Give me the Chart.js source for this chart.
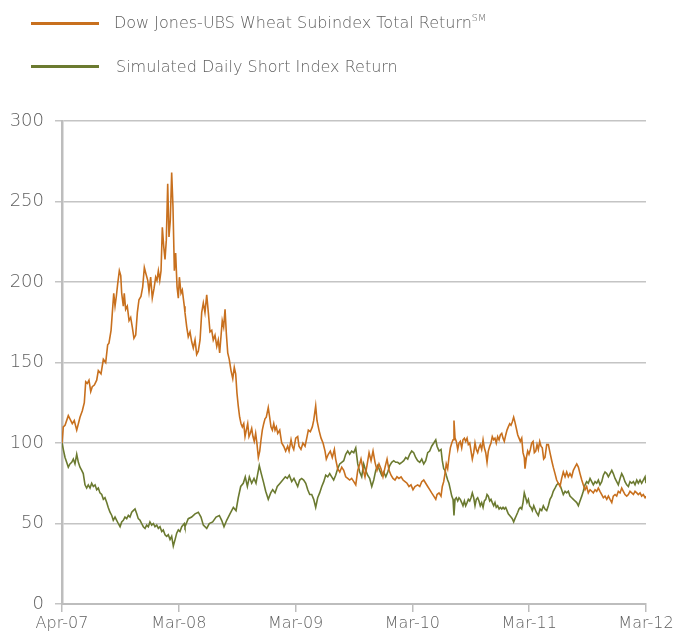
<!DOCTYPE html>
<html>
<head>
<meta charset="utf-8">
<script src="https://cdn.jsdelivr.net/npm/chart.js@4"></script>
<style>
  html, body { margin: 0; padding: 0; background: #ffffff; }
  #wrap { position: relative; width: 678px; height: 635px; }
  #legend { position: absolute; left: 0; top: 0; width: 678px; font-family: "DejaVu Sans", sans-serif; font-weight: 200; color: #606060; font-size: 16px; }
  .item { position: absolute; left: 31px; height: 20px; display: flex; align-items: center; white-space: nowrap; }
  .swatch { width: 68px; height: 3px; margin-right: 15px; }
  sup { font-size: 9.5px; position: relative; top: -1px; }
</style>
</head>
<body>
<div id="wrap">
  <canvas id="c" width="678" height="635"></canvas>
  <div id="legend"></div>
</div>
<script>
// ---- data (time in years since Apr-07) ----
const xTickLabels = ["Apr-07", "Mar-08", "Mar-09", "Mar-10", "Mar-11", "Mar-12"];
const yTicks = [0, 50, 100, 150, 200, 250, 300];

const wheatLabel = "Dow Jones-UBS Wheat Subindex Total Return";
const shortLabel = "Simulated Daily Short Index Return";

const wheatTime = [0,0.011,0.026,0.054,0.068,0.088,0.105,0.126,0.140,0.154,0.174,0.191,0.203,0.217,0.231,0.246,0.259,0.277,0.297,0.311,0.334,0.354,0.374,0.391,0.402,0.420,0.431,0.443,0.454,0.465,0.477,0.491,0.503,0.511,0.525,0.533,0.545,0.559,0.574,0.588,0.602,0.616,0.631,0.645,0.659,0.676,0.691,0.705,0.719,0.734,0.745,0.759,0.773,0.788,0.802,0.813,0.825,0.837,0.848,0.859,0.871,0.882,0.893,0.905,0.916,0.927,0.939,0.950,0.962,0.973,0.985,0.996,1.005,1.019,1.030,1.047,1.053,1.068,1.081,1.096,1.110,1.124,1.139,1.153,1.167,1.182,1.196,1.210,1.224,1.239,1.253,1.267,1.282,1.295,1.310,1.325,1.338,1.350,1.361,1.372,1.384,1.396,1.407,1.419,1.432,1.447,1.462,1.475,1.487,1.498,1.509,1.521,1.533,1.544,1.556,1.567,1.578,1.590,1.601,1.612,1.624,1.635,1.646,1.658,1.670,1.681,1.693,1.704,1.715,1.727,1.738,1.749,1.766,1.778,1.789,1.801,1.813,1.824,1.835,1.847,1.864,1.881,1.898,1.915,1.932,1.944,1.961,1.972,1.984,2.001,2.018,2.029,2.046,2.063,2.081,2.098,2.109,2.126,2.143,2.155,2.172,2.183,2.200,2.218,2.235,2.252,2.263,2.280,2.297,2.314,2.332,2.343,2.360,2.378,2.395,2.412,2.429,2.446,2.463,2.480,2.498,2.515,2.532,2.549,2.560,2.577,2.594,2.611,2.629,2.646,2.663,2.680,2.697,2.714,2.731,2.748,2.766,2.783,2.800,2.817,2.834,2.851,2.868,2.885,2.903,2.920,2.937,2.954,2.971,2.988,3.005,3.022,3.045,3.063,3.080,3.097,3.114,3.131,3.148,3.165,3.183,3.200,3.211,3.228,3.245,3.256,3.268,3.279,3.290,3.302,3.313,3.325,3.337,3.348,3.356,3.365,3.376,3.388,3.399,3.410,3.422,3.433,3.445,3.456,3.468,3.479,3.491,3.502,3.513,3.525,3.536,3.547,3.559,3.570,3.581,3.593,3.605,3.616,3.628,3.639,3.650,3.662,3.673,3.684,3.696,3.707,3.718,3.730,3.742,3.753,3.765,3.776,3.787,3.799,3.810,3.821,3.833,3.844,3.855,3.867,3.878,3.890,3.902,3.913,3.924,3.936,3.947,3.958,3.964,3.976,3.987,3.998,4.010,4.021,4.033,4.044,4.056,4.067,4.078,4.090,4.101,4.112,4.124,4.135,4.150,4.164,4.178,4.193,4.206,4.221,4.235,4.249,4.264,4.278,4.292,4.307,4.321,4.335,4.349,4.364,4.378,4.392,4.407,4.421,4.435,4.450,4.463,4.478,4.492,4.506,4.521,4.535,4.549,4.564,4.578,4.592,4.606,4.621,4.635,4.649,4.664,4.678,4.692,4.707,4.720,4.735,4.749,4.763,4.778,4.792,4.806,4.820,4.835,4.849,4.863,4.878,4.892,4.906,4.921,4.934,4.949,4.963,4.977,4.992,5.000];
const wheatValue = [100,110,111,117,115,112,114,108,112,116,120,125,138,137,139,132,135,136,139,145,143,152,150,161,162,170,181,193,185,191,199,207,204,193,185,193,183,185,176,178,172,165,167,181,189,191,197,209,205,201,194,203,190,196,203,201,207,201,207,234,222,214,226,261,228,238,268,247,207,218,197,190,203,193,195,185,181,172,166,169,163,159,164,155,157,164,181,187,181,192,181,169,170,164,167,160,164,156,166,176,172,183,168,156,152,145,140,147,143,131,123,116,112,110,112,104,108,112,104,106,109,104,101,106,99,91,95,102,108,112,115,116,122,116,110,108,112,108,110,106,108,100,98,95,98,95,102,98,96,103,104,98,96,100,98,104,108,107,110,114,123,114,108,103,100,95,90,93,95,91,96,90,84,82,85,83,79,78,77,78,76,74,83,87,90,84,79,86,94,89,95,88,83,87,84,79,85,90,83,80,78,77,79,78,79,77,76,75,73,74,71,73,74,73,76,77,75,73,71,69,67,65,68,69,67,73,76,81,87,84,91,97,100,102,114,103,101,96,100,101,97,102,103,101,103,99,100,95,90,94,100,96,94,97,99,96,102,97,94,88,95,98,100,104,102,103,100,104,102,105,106,103,101,105,108,110,112,111,113,116,113,109,105,103,101,103,94,91,84,91,95,93,96,100,101,94,95,99,96,101,98,97,90,91,99,99,94,89,85,81,77,75,73,78,82,79,82,79,81,79,83,85,87,85,81,77,74,71,73,69,71,70,69,71,70,72,70,68,66,67,65,67,65,63,67,68,67,70,69,72,70,68,67,68,70,69,68,70,69,68,69,67,68,66,67];

const shortTime = [0,0.011,0.026,0.040,0.054,0.068,0.083,0.097,0.111,0.126,0.140,0.154,0.169,0.182,0.197,0.211,0.225,0.240,0.254,0.268,0.283,0.297,0.311,0.325,0.340,0.354,0.368,0.383,0.396,0.411,0.426,0.439,0.454,0.468,0.482,0.497,0.511,0.525,0.539,0.554,0.568,0.582,0.597,0.610,0.625,0.640,0.653,0.668,0.682,0.696,0.711,0.725,0.739,0.753,0.768,0.782,0.796,0.811,0.825,0.839,0.854,0.867,0.882,0.896,0.910,0.925,0.939,0.953,0.968,0.982,0.996,1.010,1.025,1.047,1.053,1.081,1.110,1.139,1.167,1.190,1.210,1.239,1.261,1.290,1.319,1.347,1.367,1.387,1.410,1.438,1.467,1.490,1.509,1.530,1.552,1.569,1.587,1.604,1.624,1.644,1.661,1.676,1.689,1.706,1.724,1.744,1.766,1.787,1.804,1.824,1.843,1.867,1.890,1.912,1.929,1.946,1.967,1.986,2.018,2.035,2.052,2.069,2.087,2.104,2.121,2.138,2.155,2.172,2.189,2.206,2.224,2.241,2.258,2.275,2.292,2.309,2.326,2.343,2.360,2.378,2.395,2.412,2.429,2.446,2.463,2.480,2.498,2.515,2.532,2.549,2.566,2.583,2.600,2.617,2.634,2.652,2.669,2.686,2.703,2.720,2.737,2.754,2.772,2.789,2.806,2.823,2.840,2.857,2.874,2.891,2.909,2.926,2.943,2.960,2.977,2.994,3.011,3.028,3.045,3.063,3.080,3.097,3.114,3.131,3.148,3.165,3.183,3.200,3.211,3.228,3.245,3.256,3.268,3.279,3.290,3.302,3.313,3.325,3.337,3.348,3.356,3.365,3.376,3.388,3.399,3.410,3.422,3.433,3.445,3.456,3.468,3.479,3.491,3.502,3.513,3.525,3.536,3.547,3.559,3.570,3.581,3.593,3.605,3.616,3.628,3.639,3.650,3.662,3.673,3.684,3.696,3.707,3.718,3.730,3.742,3.753,3.765,3.776,3.787,3.799,3.810,3.821,3.833,3.844,3.855,3.867,3.878,3.890,3.902,3.913,3.924,3.936,3.947,3.958,3.970,3.981,3.993,4.004,4.016,4.027,4.039,4.050,4.061,4.078,4.093,4.107,4.121,4.135,4.150,4.164,4.178,4.193,4.206,4.221,4.235,4.249,4.264,4.278,4.292,4.307,4.321,4.335,4.349,4.364,4.378,4.392,4.407,4.421,4.435,4.450,4.463,4.478,4.492,4.506,4.521,4.535,4.549,4.564,4.578,4.592,4.606,4.621,4.635,4.649,4.664,4.678,4.692,4.707,4.720,4.735,4.749,4.763,4.778,4.792,4.806,4.820,4.835,4.849,4.863,4.878,4.892,4.906,4.921,4.934,4.949,4.963,4.977,4.992,5.000];
const shortValue = [100,96,91,88,85,87,88,90,87,93,88,85,83,81,74,72,74,72,75,73,74,71,72,69,68,65,66,63,60,57,55,52,54,52,50,48,51,52,54,53,55,54,57,58,59,56,53,52,50,48,47,49,48,51,49,50,48,49,47,48,45,46,43,42,43,40,42,36,40,44,46,45,48,50,48,53,54,56,57,54,49,47,50,51,54,55,52,48,52,56,60,58,66,73,75,79,73,79,75,78,75,81,86,81,76,70,65,69,71,69,73,75,77,79,78,80,76,78,73,77,78,77,75,71,68,68,65,60,66,69,73,76,80,79,81,79,77,80,84,87,88,89,93,95,93,95,94,97,87,82,79,87,83,80,78,73,77,83,86,83,80,82,79,82,86,88,89,88,88,87,88,89,91,90,93,95,94,91,89,88,90,87,89,94,95,98,100,102,98,95,96,89,84,83,80,77,75,71,67,65,55,65,66,64,66,65,63,61,64,61,63,65,64,66,69,66,61,65,66,64,61,63,60,64,65,68,67,64,65,63,61,63,60,61,59,60,59,60,59,60,58,56,55,54,53,51,53,55,57,59,60,59,63,69,66,63,65,61,60,58,61,59,57,55,59,58,61,59,58,61,65,67,70,72,74,75,74,71,68,70,69,70,67,66,65,64,63,61,64,67,70,74,76,75,78,76,74,76,75,77,74,76,80,82,81,79,81,83,81,78,76,74,78,81,79,76,74,73,76,75,76,74,77,75,77,75,77,79,75];

// ---- styles ----
const wheatColor = "#C8701E";
const shortColor = "#6B7A30";
const textColor = "#606060";
const gridColor = "#C4C4C4";
const fontFamily = '"DejaVu Sans", sans-serif';

const toPoints = (ts, vs) => ts.map((t, i) => ({ x: t, y: vs[i] }));

const htmlLegend = {
  id: "htmlLegend",
  afterUpdate(chart) {
    const box = document.getElementById("legend");
    box.innerHTML = "";
    const tops = [13, 56];
    const lefts = [0, 2];
    chart.data.datasets.forEach((ds, i) => {
      const item = document.createElement("div");
      item.className = "item";
      item.style.top = tops[i] + "px";
      const sw = document.createElement("span");
      sw.className = "swatch";
      sw.style.background = ds.borderColor;
      sw.style.marginRight = (15 + lefts[i]) + "px";
      const tx = document.createElement("span");
      tx.textContent = ds.label;
      if (ds.superscript) {
        const s = document.createElement("sup");
        s.textContent = ds.superscript;
        tx.appendChild(s);
      }
      item.appendChild(sw);
      item.appendChild(tx);
      box.appendChild(item);
    });
  }
};

new Chart(document.getElementById("c"), {
  type: "line",
  data: {
    datasets: [
      { label: wheatLabel, superscript: "SM", data: toPoints(wheatTime, wheatValue), borderColor: wheatColor, borderWidth: 1.6, pointRadius: 0, tension: 0 },
      { label: shortLabel, data: toPoints(shortTime, shortValue), borderColor: shortColor, borderWidth: 1.6, pointRadius: 0, tension: 0 }
    ]
  },
  options: {
    responsive: false,
    animation: false,
    devicePixelRatio: 1,
    layout: { padding: { top: 121, right: 32, left: 0, bottom: 0 } },
    plugins: { legend: { display: false }, tooltip: { enabled: false } },
    scales: {
      x: {
        type: "linear",
        min: 0, max: 5,
        afterBuildTicks(s) { s.ticks = xTickLabels.map((_, i) => ({ value: i })); },
        afterFit(s) { s.height = 31; },
        ticks: { callback: (v) => xTickLabels[v], color: textColor, font: { family: fontFamily, size: 16, weight: 200 }, padding: 2, maxRotation: 0, autoSkip: false },
        grid: { drawOnChartArea: false, drawTicks: true, tickLength: 8, color: "#BDBDBD", lineWidth: 1.5 },
        border: { display: true, color: "#BDBDBD", width: 2 }
      },
      y: {
        min: 0, max: 300,
        afterBuildTicks(s) { s.ticks = yTicks.map(v => ({ value: v })); },
        afterFit(s) { s.width = 62; },
        ticks: { color: textColor, font: { family: fontFamily, size: 18, weight: 200 }, padding: 11 },
        grid: { color: gridColor, lineWidth: 1.5, tickLength: 7 },
        border: { display: true, color: "#BDBDBD", width: 2.5 }
      }
    }
  },
  plugins: [htmlLegend]
});
</script>
</body>
</html>
